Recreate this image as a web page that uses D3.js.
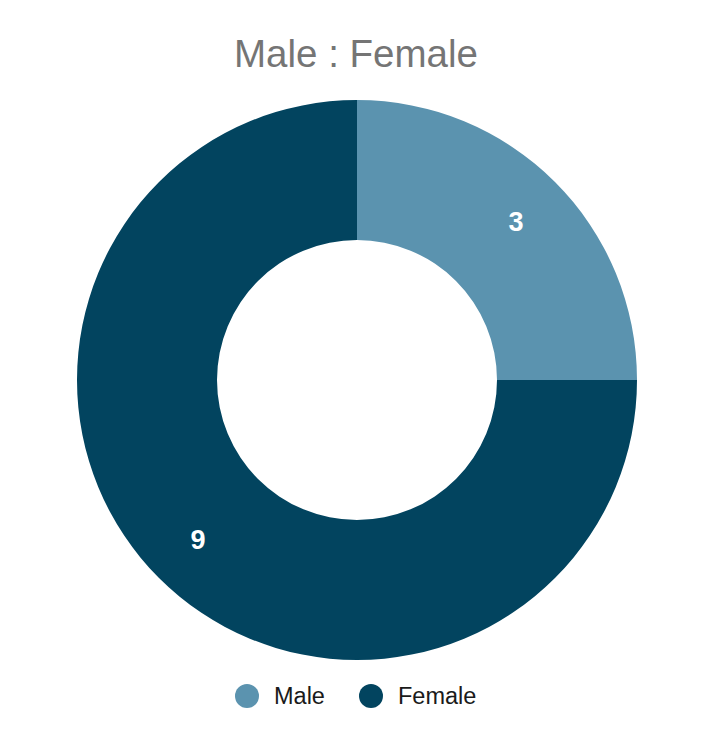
<!DOCTYPE html>
<html><head><meta charset="utf-8">
<script src="https://cdn.jsdelivr.net/npm/d3@7"></script>
<style>body{margin:0;background:#fff;}svg{display:block;}</style>
</head><body>
<svg id="chart" width="714" height="744"></svg>
<script>
const categories = ["Male", "Female"];
const values = [3, 9];
const colors = ["#5b93af", "#02445f"];
const title = "Male : Female";

const svg = d3.select("#chart");
const W = 714, cx = 357, cy = 380, outerR = 280, innerR = 140;
const font = "'Liberation Sans', Arial, sans-serif";

svg.append("text").attr("x", W/2 - 1).attr("y", 67).attr("text-anchor","middle")
  .attr("font-family", font).attr("font-size", 38.5).attr("fill", "#757575").text(title);

const data = categories.map((c,i)=>({cat:c, value:values[i], color:colors[i]}));
const pie = d3.pie().value(d=>d.value).sort(null);
const arc = d3.arc().innerRadius(innerR).outerRadius(outerR);
const labelArc = d3.arc().innerRadius(225).outerRadius(225);
const g = svg.append("g").attr("transform", `translate(${cx},${cy})`);
const arcs = pie(data);
g.selectAll("path").data(arcs).join("path").attr("d", arc).attr("fill", d=>d.data.color);
g.selectAll("text").data(arcs).join("text")
  .attr("transform", d=>`translate(${labelArc.centroid(d)})`)
  .attr("text-anchor","middle").attr("dy","0.36em")
  .attr("font-family", font).attr("font-weight","bold").attr("font-size", 27).attr("fill","#fff")
  .text(d=>d.data.value);

const legendX = [247, 371];
const lg = svg.append("g");
data.forEach((d,i)=>{
  lg.append("circle").attr("cx", legendX[i]).attr("cy", 696).attr("r", 12).attr("fill", d.color);
  lg.append("text").attr("x", legendX[i]+27).attr("y", 696).attr("dy","0.36em")
    .attr("font-family", font).attr("font-size", 23.5).attr("fill","#1a1a1a").text(d.cat);
});
</script>
</body></html>
